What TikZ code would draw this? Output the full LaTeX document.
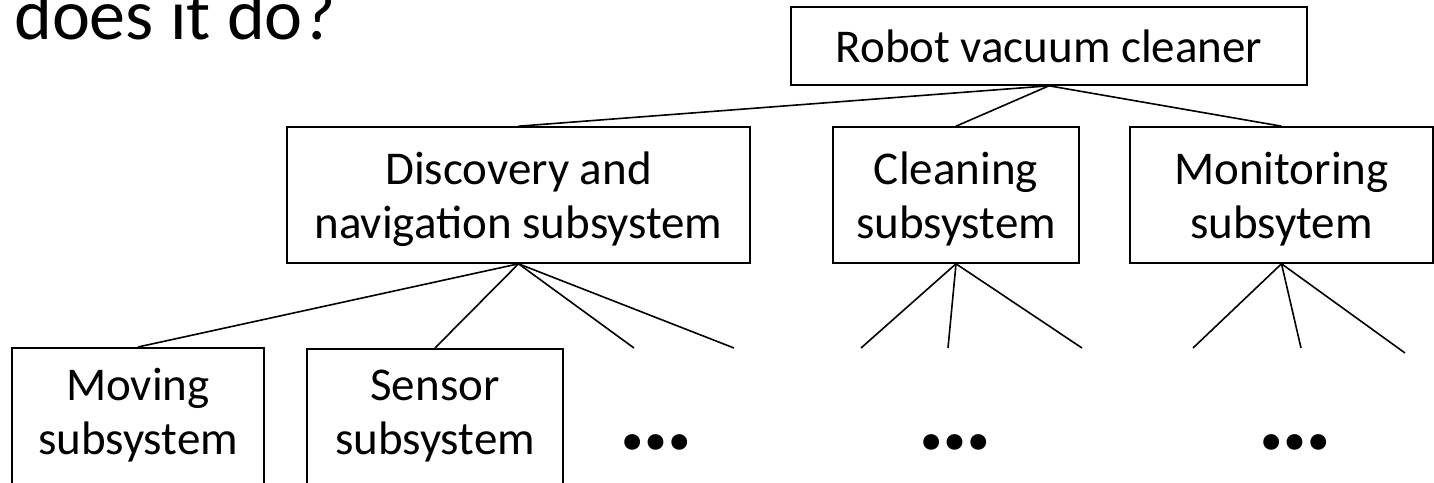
\documentclass[tikz,border=0pt]{standalone}
\usepackage{fontspec}
\setmainfont{Carlito}
\usetikzlibrary{positioning}
\tikzset{>=latex}
\newcommand{\boxfont}{\fontsize{47}{54}\selectfont}
\newcommand{\dotsfont}{\fontsize{106}{106}\selectfont\bfseries}
\tikzset{sysbox/.style = {draw, line width = 1.6pt, align = center, inner sep = 0pt, text depth = 0pt, font = \boxfont},
  leafbox/.style = {sysbox, anchor = north, minimum height = 144, text depth = 17pt},
  link/.style = {line width = 1.6pt},
  more/.style = {inner sep = 0pt, font = \dotsfont}}

\begin{document}
\begin{tikzpicture}[x = 1pt, y = -1pt]
\useasboundingbox (0, 0) rectangle (1434, 482);
\clip (0, 0) rectangle (1434, 482);
\node[anchor = base west, inner sep = 0pt, font = \fontsize{72}{78}\selectfont] (title) at (14, 39) {does it do?};
\node[sysbox, minimum width = 516, minimum height = 78] (robot) at (1049, 46) {Robot vacuum cleaner};
\node[sysbox, minimum width = 463, minimum height = 136] (disc) at (518.5, 195) {Discovery and\\navigation subsystem};
\node[sysbox, minimum width = 246, minimum height = 136] (clean) at (956, 195) {Cleaning\\subsystem};
\node[sysbox, minimum width = 303, minimum height = 136] (monit) at (1281.5, 195) {Monitoring\\subsytem};
\node[leafbox, minimum width = 252] (moving) at (138, 347) {Moving\\subsystem};
\node[leafbox, minimum width = 256] (sensor) at (435, 348) {Sensor\\subsystem};
\coordinate (d3) at (634, 348);
\coordinate (d4) at (734, 348);
\coordinate (c1) at (861, 348);
\coordinate (c2) at (948, 348);
\coordinate (c3) at (1082, 348);
\coordinate (m1) at (1193, 348);
\coordinate (m2) at (1301, 348);
\coordinate (m3) at (1405, 353);
\draw[link] (robot.south) -- (disc.north);
\draw[link] (robot.south) -- (clean.north);
\draw[link] (robot.south) -- (monit.north);
\draw[link] (disc.south) -- (moving.north);
\draw[link] (disc.south) -- (sensor.north);
\draw[link] (disc.south) -- (d3);
\draw[link] (disc.south) -- (d4);
\draw[link] (clean.south) -- (c1);
\draw[link] (clean.south) -- (c2);
\draw[link] (clean.south) -- (c3);
\draw[link] (monit.south) -- (m1);
\draw[link] (monit.south) -- (m2);
\draw[link] (monit.south) -- (m3);
\node[more] (ddots) at (656, 442) {…};
\node[more] (cdots) at (955, 442) {…};
\node[more] (mdots) at (1295, 442) {…};
\end{tikzpicture}
\end{document}
